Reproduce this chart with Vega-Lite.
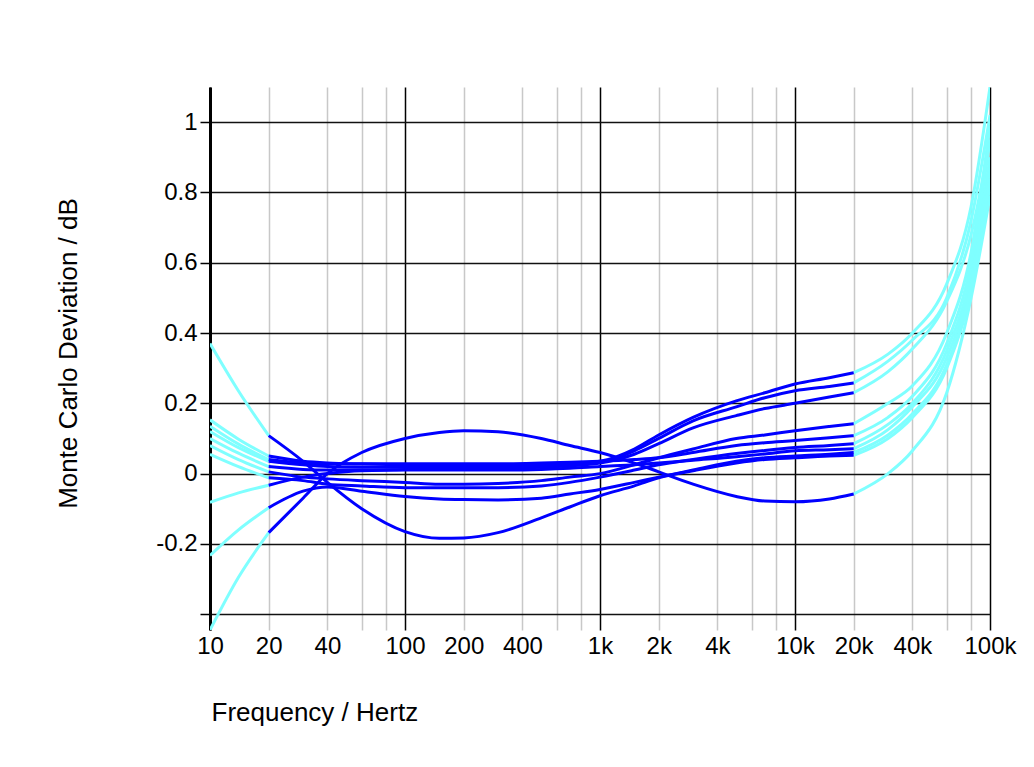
{
  "$schema": "https://vega.github.io/schema/vega-lite/v6.json",
  "width": 780,
  "height": 543,
  "autosize": {"type": "none"},
  "padding": {"left": 210, "top": 87, "right": 44, "bottom": 137},
  "background": "white",
  "config": {
    "view": {"stroke": null},
    "font": "Liberation Sans"
  },
  "data": {
    "values": [
      {"f":10,"T":0.37,"H":-0.445,"U1":0.153,"U2":0.12,"U3":0.10,"M1":0.08,"M2":0.135,"M3":0.055,"M4":-0.082,"M5":-0.233},
      {"f":14,"T":0.235,"H":-0.295,"U1":0.098,"U2":0.074,"U3":0.058,"M1":0.04,"M2":0.084,"M3":0.02,"M4":-0.055,"M5":-0.16},
      {"f":20,"T":0.108,"H":-0.168,"U1":0.05,"U2":0.035,"U3":0.02,"M1":0.005,"M2":0.04,"M3":-0.012,"M4":-0.033,"M5":-0.097},
      {"f":30,"T":0.035,"H":-0.07,"U1":0.035,"U2":0.025,"U3":0.012,"M1":-0.01,"M2":0.03,"M3":-0.02,"M4":-0.01,"M5":-0.05},
      {"f":40,"T":-0.025,"H":0.0,"U1":0.03,"U2":0.02,"U3":0.01,"M1":-0.015,"M2":0.028,"M3":-0.03,"M4":0.0,"M5":-0.038},
      {"f":60,"T":-0.10,"H":0.06,"U1":0.027,"U2":0.018,"U3":0.01,"M1":-0.02,"M2":0.028,"M3":-0.035,"M4":0.008,"M5":-0.05},
      {"f":100,"T":-0.165,"H":0.1,"U1":0.025,"U2":0.018,"U3":0.012,"M1":-0.025,"M2":0.028,"M3":-0.04,"M4":0.01,"M5":-0.065},
      {"f":150,"T":-0.184,"H":0.117,"U1":0.025,"U2":0.02,"U3":0.014,"M1":-0.03,"M2":0.028,"M3":-0.04,"M4":0.01,"M5":-0.072},
      {"f":200,"T":-0.183,"H":0.122,"U1":0.025,"U2":0.02,"U3":0.014,"M1":-0.03,"M2":0.028,"M3":-0.04,"M4":0.01,"M5":-0.074},
      {"f":300,"T":-0.168,"H":0.119,"U1":0.025,"U2":0.02,"U3":0.015,"M1":-0.028,"M2":0.028,"M3":-0.04,"M4":0.01,"M5":-0.075},
      {"f":500,"T":-0.126,"H":0.10,"U1":0.025,"U2":0.022,"U3":0.018,"M1":-0.02,"M2":0.03,"M3":-0.035,"M4":0.012,"M5":-0.07},
      {"f":700,"T":-0.095,"H":0.08,"U1":0.028,"U2":0.025,"U3":0.022,"M1":-0.01,"M2":0.032,"M3":-0.025,"M4":0.015,"M5":-0.058},
      {"f":1000,"T":-0.063,"H":0.06,"U1":0.035,"U2":0.032,"U3":0.03,"M1":0.0,"M2":0.035,"M3":-0.01,"M4":0.02,"M5":-0.045},
      {"f":1500,"T":-0.035,"H":0.03,"U1":0.07,"U2":0.065,"U3":0.055,"M1":0.025,"M2":0.04,"M3":0.01,"M4":0.025,"M5":-0.025},
      {"f":2000,"T":-0.012,"H":0.005,"U1":0.11,"U2":0.10,"U3":0.085,"M1":0.045,"M2":0.045,"M3":0.025,"M4":0.03,"M5":-0.01},
      {"f":3000,"T":0.008,"H":-0.03,"U1":0.16,"U2":0.15,"U3":0.13,"M1":0.07,"M2":0.06,"M3":0.04,"M4":0.038,"M5":0.01},
      {"f":5000,"T":0.03,"H":-0.065,"U1":0.207,"U2":0.19,"U3":0.165,"M1":0.10,"M2":0.08,"M3":0.057,"M4":0.048,"M5":0.035},
      {"f":7000,"T":0.04,"H":-0.078,"U1":0.23,"U2":0.216,"U3":0.185,"M1":0.11,"M2":0.088,"M3":0.066,"M4":0.056,"M5":0.045},
      {"f":10000,"T":0.045,"H":-0.08,"U1":0.255,"U2":0.236,"U3":0.20,"M1":0.122,"M2":0.094,"M3":0.074,"M4":0.065,"M5":0.05},
      {"f":15000,"T":0.05,"H":-0.072,"U1":0.273,"U2":0.248,"U3":0.218,"M1":0.134,"M2":0.102,"M3":0.08,"M4":0.068,"M5":0.055},
      {"f":20000,"T":0.052,"H":-0.058,"U1":0.287,"U2":0.258,"U3":0.23,"M1":0.142,"M2":0.108,"M3":0.085,"M4":0.071,"M5":0.06},
      {"f":30000,"T":0.10,"H":0.0,"U1":0.34,"U2":0.32,"U3":0.29,"M1":0.20,"M2":0.16,"M3":0.14,"M4":0.125,"M5":0.11},
      {"f":40000,"T":0.16,"H":0.065,"U1":0.40,"U2":0.38,"U3":0.355,"M1":0.25,"M2":0.22,"M3":0.20,"M4":0.19,"M5":0.17},
      {"f":60000,"T":0.30,"H":0.23,"U1":0.54,"U2":0.50,"U3":0.49,"M1":0.40,"M2":0.37,"M3":0.35,"M4":0.33,"M5":0.31},
      {"f":80000,"T":0.52,"H":0.50,"U1":0.76,"U2":0.72,"U3":0.68,"M1":0.63,"M2":0.60,"M3":0.57,"M4":0.55,"M5":0.53},
      {"f":100000,"T":0.82,"H":0.79,"U1":1.10,"U2":1.02,"U3":0.95,"M1":0.99,"M2":0.95,"M3":0.90,"M4":0.87,"M5":0.84}
    ]
  },
  "transform": [
    {"fold": ["T","H","U1","U2","U3","M1","M2","M3","M4","M5"], "as": ["c","v"]}
  ],
  "encoding": {
    "x": {
      "field": "f", "type": "quantitative",
      "scale": {"type": "log", "domain": [10, 100000], "nice": false},
      "axis": {
        "values": [10,20,40,60,80,100,200,400,600,800,1000,2000,4000,6000,8000,10000,20000,40000,60000,80000,100000],
        "labelExpr": "indexof([60,80,600,800,6000,8000,60000,80000], datum.value) >= 0 ? '' : (datum.value >= 1000 ? (datum.value/1000) + 'k' : '' + datum.value)",
        "labelFontSize": 24, "labelColor": "#000", "labelPadding": 4, "labelFlush": false,
        "labelOverlap": false,
        "ticks": false, "domain": false,
        "grid": true,
        "gridColor": {"condition": {"test": "indexof([10,100,1000,10000,100000], datum.value) >= 0", "value": "#000000"}, "value": "#c8c8c8"},
        "gridWidth": 1.5,
        "title": "Frequency / Hertz",
        "titleFontSize": 26, "titleFontWeight": "normal", "titleColor": "#000",
        "titleAlign": "left", "titleAnchor": "start", "titleBaseline": "middle",
        "titleX": 1, "titleY": 82
      }
    },
    "y": {
      "field": "v", "type": "quantitative",
      "scale": {"domain": [-0.445, 1.1], "nice": false, "zero": false},
      "axis": {
        "values": [-0.4,-0.2,0,0.2,0.4,0.6,0.8,1],
        "labelExpr": "datum.value < -0.3 ? '' : '' + datum.value",
        "labelFontSize": 24, "labelColor": "#000", "labelPadding": 3,
        "labelFlush": false, "labelOverlap": false,
        "ticks": true, "tickSize": 10, "tickColor": "#000", "tickWidth": 1.5,
        "domain": true, "domainColor": "#000", "domainWidth": 3,
        "grid": true, "gridColor": "#111", "gridWidth": 1.5,
        "title": "Monte Carlo Deviation / dB",
        "titleFontSize": 26, "titleFontWeight": "normal", "titleColor": "#000",
        "titleAngle": -90, "titleAlign": "center", "titleBaseline": "middle",
        "titleX": -142, "titleY": 266
      }
    },
    "detail": {"field": "c", "type": "nominal"}
  },
  "layer": [
    {
      "transform": [{"filter": "datum.f <= 20"}],
      "mark": {"type": "line", "color": "#7fffff", "strokeWidth": 3, "interpolate": "monotone", "clip": true}
    },
    {
      "transform": [{"filter": "datum.f >= 20000"}],
      "mark": {"type": "line", "color": "#7fffff", "strokeWidth": 3, "interpolate": "monotone", "clip": true}
    },
    {
      "transform": [{"filter": "datum.f >= 20 && datum.f <= 20000"}],
      "mark": {"type": "line", "color": "#0000ff", "strokeWidth": 3, "interpolate": "monotone", "clip": true}
    }
  ]
}
